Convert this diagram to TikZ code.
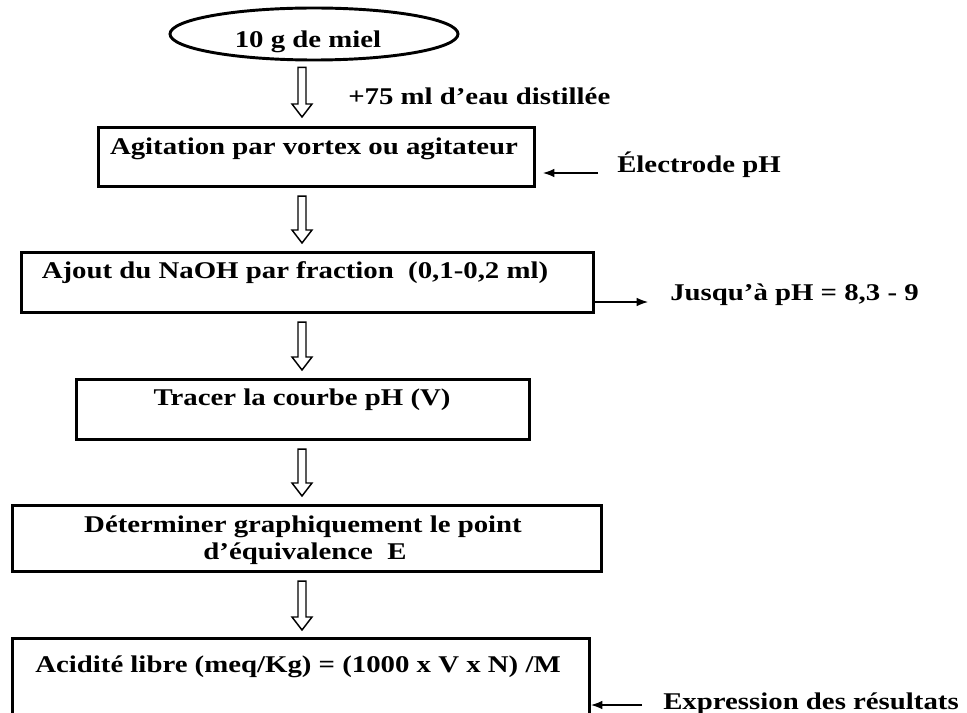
\documentclass[tikz,border=0pt]{standalone}
\usepackage{fontspec}
\setmainfont{Liberation Serif}[FakeStretch=1.2]
\usetikzlibrary{arrows.meta,shapes.geometric,calc}
\newcommand\hollowarrow[2]{%
  \draw[harrow] let \p1=(#1), \p2=(#2) in
    (\x1-3pt,\y1) -- (\x1+3pt,\y1) -- (\x1+3pt,\y2+9.75pt) -- (\x1+7.5pt,\y2+9.75pt)
    -- (\x1,\y2) -- (\x1-7.5pt,\y2+9.75pt) -- (\x1-3pt,\y2+9.75pt) -- cycle;}
\begin{document}
\begin{tikzpicture}[x=0.75pt,y=-0.75pt,
  box/.style={draw, line width=2.3pt, rectangle, inner sep=0, anchor=north west},
  lbl/.style={font=\fontsize{18}{21.6}\selectfont\bfseries, inner sep=0},
  side/.style={line width=0.9pt, -{Latex[length=8.5pt,width=6.5pt]}},
  harrow/.style={draw, line width=1.1pt, fill=white}]
\useasboundingbox (0,0) rectangle (967,713);
\fill[white] (0,0) rectangle (967,713);
\begin{scope}
\clip (0,0) rectangle (967,713);
% shapes
\node[ellipse, draw, line width=2.2pt, inner sep=0, minimum width=216pt, minimum height=39pt] (e) at (314,34) {};
\node[box, minimum width=327pt, minimum height=44.25pt] (b1) at (97,126) {};
\node[box, minimum width=429pt, minimum height=45pt] (b2) at (20,251) {};
\node[box, minimum width=339.75pt, minimum height=45pt] (b3) at (75,378) {};
\node[box, minimum width=441.75pt, minimum height=49.5pt] (b4) at (11,504) {};
\node[box, minimum width=432.75pt, minimum height=66pt] (b5) at (11,637) {};
\end{scope}
% texts
\node[lbl, anchor=base] (t0) at (308,48) {10 g de miel};
\node[lbl, anchor=base west] (l1) at (348,105) {+75 ml d’eau distillée};
\node[lbl, anchor=base] (t1) at (314,155) {Agitation par vortex ou agitateur};
\node[lbl, anchor=base west] (el) at (617,172) {Électrode pH};
\node[lbl, anchor=base] (t2) at (295,278) {Ajout du NaOH par fraction\ \ (0,1-0,2 ml)};
\node[lbl, anchor=base west] (js) at (670,300) {Jusqu’à pH = 8,3 - 9};
\node[lbl, anchor=base] (t3) at (302,405) {Tracer la courbe pH (V)};
\node[lbl, anchor=base] (t4a) at (303,532) {Déterminer graphiquement le point};
\node[lbl, anchor=base] (t4b) at (305,559) {d’équivalence\ \ E};
\node[lbl, anchor=base] (t5) at (298,672) {Acidité libre (meq/Kg) = (1000 x V x N) /M};
\node[lbl, anchor=base west] (ex) at (663,709) {Expression des résultats};
% hollow down arrows
\coordinate (ax) at (302,0);
\hollowarrow{$(e.south -| ax)+(0,6)$}{$(b1.north -| ax)+(0,-9)$}
\hollowarrow{$(b1.south -| ax)+(0,8)$}{$(b2.north -| ax)+(0,-8)$}
\hollowarrow{$(b2.south -| ax)+(0,8)$}{$(b3.north -| ax)+(0,-8)$}
\hollowarrow{$(b3.south -| ax)+(0,8)$}{$(b4.north -| ax)+(0,-8)$}
\hollowarrow{$(b4.south -| ax)+(0,8)$}{$(b5.north -| ax)+(0,-7)$}
% side arrows
\coordinate (elt) at (598,173);
\draw[side] (elt) -- ($(b1.east |- elt)+(7,0)$);
\coordinate (jst) at (648,302);
\draw[side] (b2.east |- jst) -- (jst);
\coordinate (ext) at (642,705);
\draw[side] (ext) -- (b5.east |- ext);
\end{tikzpicture}
\end{document}
